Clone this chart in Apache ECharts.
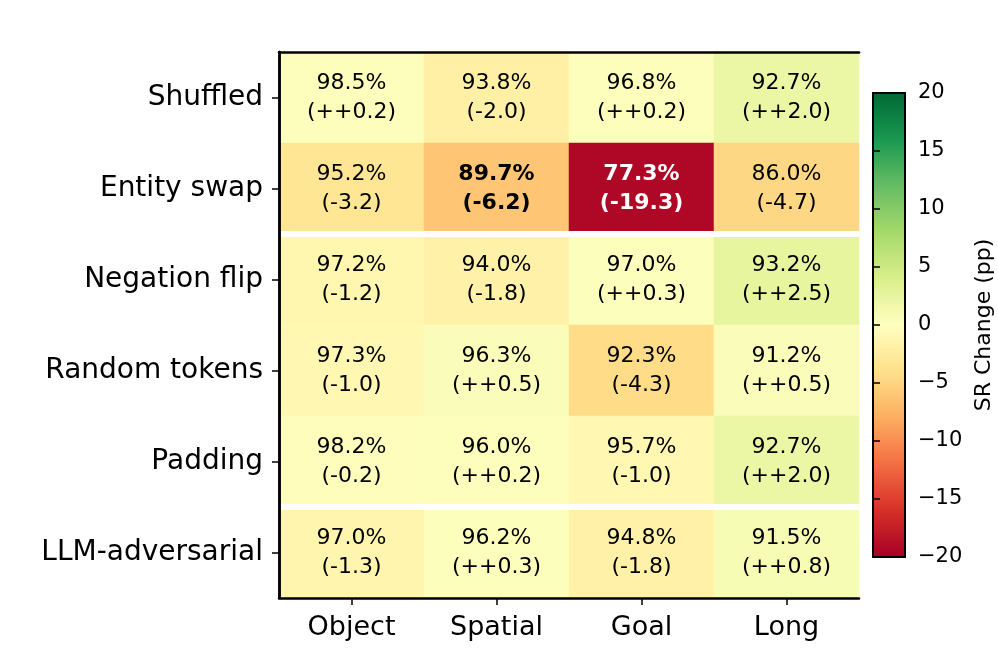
<!DOCTYPE html>
<html>
<head>
<meta charset="utf-8">
<script src="https://cdn.jsdelivr.net/npm/echarts@6/dist/echarts.min.js"></script>
<style>
  html, body { margin: 0; padding: 0; background: #fff; }
  #chart { width: 998px; height: 665px; }
</style>
</head>
<body>
<div id="chart"></div>
<script>
// 数据
const columns = ['Object', 'Spatial', 'Goal', 'Long']
const rows = ['Shuffled', 'Entity swap', 'Negation flip', 'Random tokens', 'Padding', 'LLM-adversarial']
const successRates = [
  [98.5, 93.8, 96.8, 92.7],
  [95.2, 89.7, 77.3, 86.0],
  [97.2, 94.0, 97.0, 93.2],
  [97.3, 96.3, 92.3, 91.2],
  [98.2, 96.0, 95.7, 92.7],
  [97.0, 96.2, 94.8, 91.5]
]
const changes = [
  [0.2, -2.0, 0.2, 2.0],
  [-3.2, -6.2, -19.3, -4.7],
  [-1.2, -1.8, 0.3, 2.5],
  [-1.0, 0.5, -4.3, 0.5],
  [-0.2, 0.2, -1.0, 2.0],
  [-1.3, 0.3, -1.8, 0.8]
]
// 分组分隔线：在第 2、5 行之后
const groupBreaks = [2, 5]
const colorbarTicks = [-20, -15, -10, -5, 0, 5, 10, 15, 20]

const font = 'DejaVu Sans'
const rdYlGn = ['#a50026', '#d73027', '#f46d43', '#fdae61', '#fee08b', '#ffffbf',
  '#d9ef8b', '#a6d96a', '#66bd63', '#1a9850', '#006837']

const plot = { left: 279, top: 52, width: 580, height: 546 }
const bar = { left: 873, top: 93, width: 32, height: 464 }

const fmtChange = v => (v > 0 ? '(++' + v.toFixed(1) + ')' : '(' + v.toFixed(1) + ')')

const heatData = []
rows.forEach((r, y) => {
  columns.forEach((c, x) => {
    const d = changes[y][x]
    const item = { value: [x, y, d] }
    if (d < -5) {
      item.label = { fontWeight: 'bold', color: d < -15 ? '#fff' : '#000' }
    }
    heatData.push(item)
  })
})

const chart = echarts.init(document.getElementById('chart'))
chart.setOption({
  animation: false,
  textStyle: { fontFamily: font },
  grid: [
    Object.assign({}, plot),
    Object.assign({}, plot),
    Object.assign({ show: true, z: 6, borderColor: '#000', borderWidth: 2, backgroundColor: 'transparent' }, bar)
  ],
  xAxis: [
    {
      gridIndex: 0,
      type: 'category',
      data: columns,
      position: 'bottom',
      z: 10,
      axisLine: { show: true, lineStyle: { color: '#000', width: 2.5 } },
      axisTick: { show: true, alignWithLabel: true, length: 7, lineStyle: { color: '#000', width: 1.5 } },
      axisLabel: { fontSize: 27, color: '#000', margin: 16, fontFamily: font },
      splitLine: { show: false }
    },
    {
      gridIndex: 1,
      type: 'value',
      min: 0,
      max: 4,
      position: 'top',
      z: 10,
      axisLine: { show: true, lineStyle: { color: '#000', width: 2.5 } },
      axisTick: { show: false },
      axisLabel: { show: false },
      splitLine: { show: false }
    },
    { gridIndex: 2, type: 'value', show: false, min: 0, max: 1 }
  ],
  yAxis: [
    {
      gridIndex: 0,
      type: 'category',
      data: rows,
      inverse: true,
      z: 10,
      axisLine: { show: true, lineStyle: { color: '#000', width: 2.5 } },
      axisTick: { show: true, alignWithLabel: true, length: 7, lineStyle: { color: '#000', width: 1.5 } },
      axisLabel: { fontSize: 28, color: '#000', margin: 16, padding: [6, 0, 0, 0], fontFamily: font },
      splitLine: { show: false }
    },
    {
      gridIndex: 1,
      type: 'value',
      min: 0,
      max: 6,
      inverse: true,
      position: 'right',
      z: 10,
      axisLine: { show: true, lineStyle: { color: '#000', width: 2.5 } },
      axisTick: { show: false },
      axisLabel: { show: false },
      splitLine: { show: false }
    },
    {
      gridIndex: 2,
      type: 'value',
      min: colorbarTicks[0],
      max: colorbarTicks[colorbarTicks.length - 1],
      interval: 5,
      position: 'right',
      z: 10,
      name: 'SR Change (pp)',
      nameLocation: 'middle',
      nameRotate: 90,
      nameGap: 68,
      nameTextStyle: { fontSize: 22, color: '#000', fontFamily: font },
      axisLine: { show: false },
      axisTick: { show: true, length: 7, lineStyle: { color: '#000', width: 1.5 } },
      axisLabel: {
        fontSize: 21,
        color: '#000',
        margin: 13,
        padding: [6, 0, 0, 0],
        fontFamily: font,
        formatter: v => String(v).replace('-', '\u2212')
      },
      splitLine: { show: false }
    }
  ],
  visualMap: {
    type: 'continuous',
    seriesIndex: 0,
    dimension: 2,
    min: -20,
    max: 20,
    calculable: false,
    hoverLink: false,
    orient: 'vertical',
    left: bar.left,
    top: bar.top,
    itemWidth: bar.width,
    itemHeight: bar.height,
    padding: 0,
    text: null,
    inRange: { color: rdYlGn }
  },
  series: [
    {
      type: 'heatmap',
      xAxisIndex: 0,
      yAxisIndex: 0,
      data: heatData,
      label: {
        show: true,
        fontSize: 22,
        lineHeight: 29,
        padding: [4, 0, 0, 0],
        color: '#000',
        fontFamily: font,
        formatter: p => {
          const [x, y] = p.value
          return successRates[y][x].toFixed(1) + '%\n' + fmtChange(changes[y][x])
        }
      },
      emphasis: { disabled: true }
    },
    {
      type: 'custom',
      xAxisIndex: 1,
      yAxisIndex: 1,
      z: 5,
      silent: true,
      data: groupBreaks,
      renderItem: (params, api) => {
        const b = api.value(0)
        const p1 = api.coord([0, b])
        const p2 = api.coord([4, b])
        return {
          type: 'line',
          shape: { x1: p1[0], y1: p1[1], x2: p2[0], y2: p2[1] },
          style: { stroke: '#fff', lineWidth: 6 }
        }
      }
    }
  ]
})
</script>
</body>
</html>
